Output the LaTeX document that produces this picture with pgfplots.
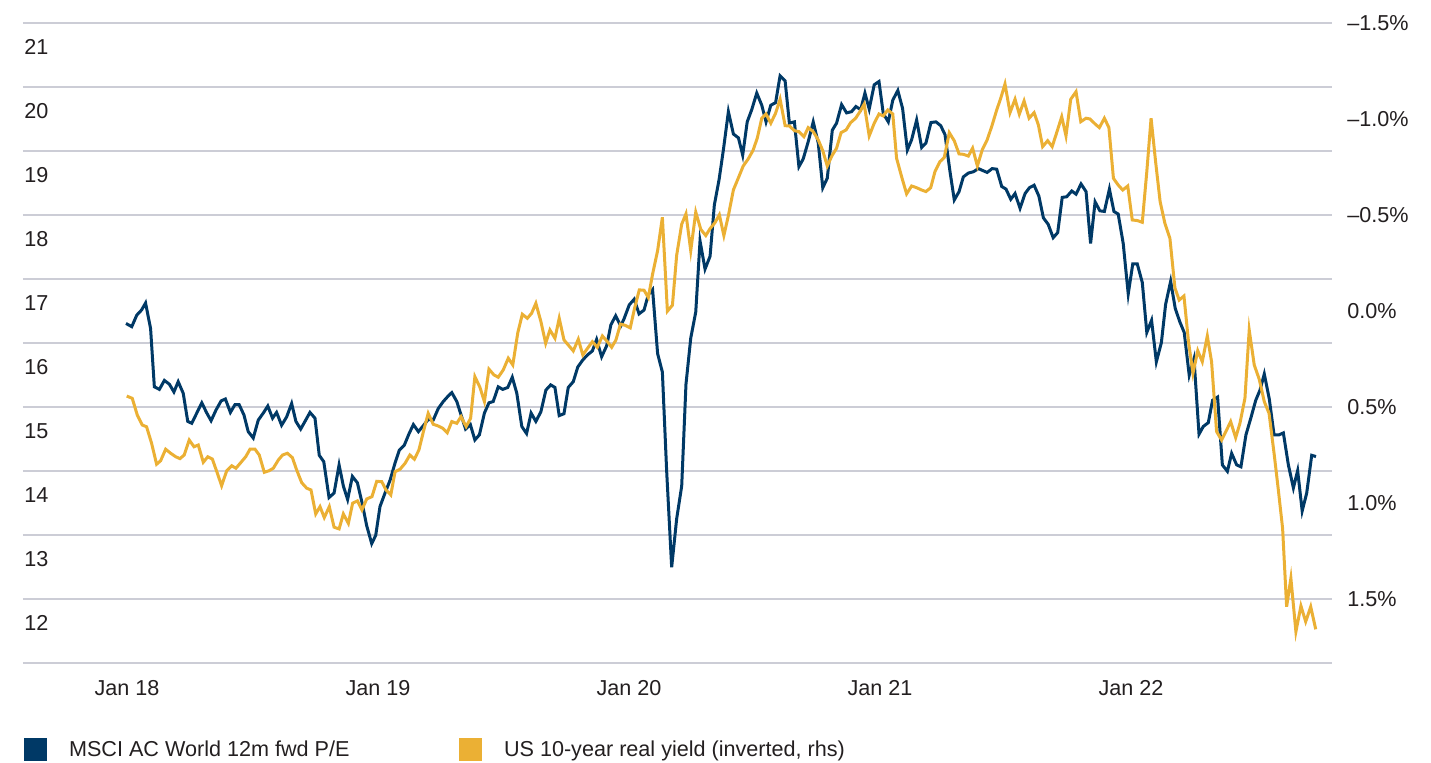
\documentclass[border=0pt]{standalone}
\usepackage{pgfplots}
\pgfplotsset{compat=1.18}
\usepackage{pgfplotstable}
\usepackage{fontspec}
\setmainfont{Liberation Sans}
\definecolor{navyc}{RGB}{0,57,102}
\definecolor{goldc}{RGB}{235,176,52}
\definecolor{gridc}{RGB}{204,205,214}
\definecolor{txtc}{RGB}{35,31,32}

% MSCI AC World 12m fwd P/E (weekly)
\pgfplotstableread{
t v
2017.996 16.68
2018.019 16.63
2018.039 16.81
2018.058 16.89
2018.074 17.00
2018.094 16.60
2018.109 15.69
2018.129 15.65
2018.149 15.79
2018.169 15.73
2018.187 15.61
2018.204 15.77
2018.224 15.59
2018.242 15.15
2018.258 15.12
2018.278 15.28
2018.298 15.44
2018.318 15.28
2018.335 15.16
2018.355 15.33
2018.375 15.47
2018.392 15.50
2018.412 15.29
2018.430 15.41
2018.447 15.41
2018.466 15.25
2018.483 14.99
2018.503 14.89
2018.523 15.17
2018.543 15.28
2018.561 15.39
2018.580 15.20
2018.596 15.29
2018.616 15.09
2018.636 15.22
2018.656 15.43
2018.673 15.15
2018.692 15.03
2018.712 15.17
2018.729 15.29
2018.749 15.20
2018.766 14.62
2018.784 14.52
2018.805 13.96
2018.825 14.03
2018.845 14.47
2018.862 14.14
2018.879 13.93
2018.898 14.29
2018.918 14.19
2018.937 13.87
2018.955 13.52
2018.975 13.24
2018.991 13.37
2019.008 13.82
2019.028 14.03
2019.048 14.23
2019.068 14.50
2019.085 14.70
2019.105 14.78
2019.124 14.96
2019.141 15.10
2019.161 14.99
2019.180 15.08
2019.200 15.18
2019.220 15.17
2019.240 15.35
2019.260 15.46
2019.276 15.53
2019.294 15.60
2019.314 15.46
2019.331 15.25
2019.349 15.03
2019.368 15.10
2019.386 14.86
2019.404 14.94
2019.424 15.28
2019.442 15.44
2019.459 15.46
2019.479 15.69
2019.497 15.65
2019.517 15.68
2019.535 15.84
2019.553 15.59
2019.573 15.07
2019.592 14.96
2019.610 15.28
2019.629 15.15
2019.649 15.30
2019.669 15.64
2019.688 15.72
2019.705 15.68
2019.722 15.24
2019.741 15.27
2019.758 15.68
2019.778 15.77
2019.796 16.00
2019.816 16.11
2019.835 16.19
2019.854 16.25
2019.871 16.43
2019.891 16.16
2019.911 16.33
2019.928 16.66
2019.947 16.80
2019.967 16.64
2019.980 16.75
2020.001 16.97
2020.021 17.06
2020.040 16.83
2020.060 16.89
2020.077 17.13
2020.094 17.21
2020.114 16.21
2020.133 15.92
2020.150 14.38
2020.170 12.87
2020.190 13.63
2020.210 14.14
2020.227 15.73
2020.246 16.45
2020.266 16.86
2020.283 17.97
2020.303 17.53
2020.323 17.73
2020.340 18.53
2020.359 18.93
2020.376 19.39
2020.396 19.99
2020.416 19.64
2020.436 19.58
2020.453 19.31
2020.471 19.83
2020.489 20.02
2020.509 20.28
2020.529 20.09
2020.546 19.83
2020.565 20.09
2020.584 20.13
2020.602 20.55
2020.622 20.47
2020.639 19.81
2020.659 19.83
2020.677 19.13
2020.694 19.25
2020.714 19.52
2020.734 19.83
2020.754 19.50
2020.772 18.80
2020.790 18.95
2020.810 19.70
2020.827 19.81
2020.847 20.10
2020.867 19.97
2020.887 19.99
2020.904 20.07
2020.923 20.02
2020.940 20.28
2020.957 20.03
2020.977 20.41
2020.996 20.46
2021.013 19.96
2021.033 19.83
2021.051 20.17
2021.071 20.32
2021.090 20.04
2021.109 19.39
2021.126 19.55
2021.146 19.86
2021.166 19.43
2021.183 19.50
2021.203 19.82
2021.223 19.83
2021.242 19.77
2021.259 19.63
2021.279 19.05
2021.296 18.61
2021.315 18.74
2021.332 18.97
2021.352 19.03
2021.372 19.05
2021.392 19.10
2021.409 19.07
2021.427 19.04
2021.447 19.10
2021.465 19.09
2021.485 18.82
2021.502 18.78
2021.521 18.62
2021.538 18.71
2021.558 18.48
2021.578 18.71
2021.595 18.80
2021.614 18.84
2021.633 18.67
2021.651 18.33
2021.670 18.23
2021.690 18.02
2021.708 18.10
2021.726 18.65
2021.744 18.66
2021.764 18.75
2021.781 18.70
2021.801 18.86
2021.821 18.74
2021.839 17.93
2021.857 18.58
2021.876 18.44
2021.894 18.43
2021.914 18.78
2021.932 18.43
2021.949 18.39
2021.969 17.93
2021.989 17.14
2022.007 17.61
2022.025 17.61
2022.045 17.32
2022.063 16.54
2022.082 16.73
2022.101 16.08
2022.121 16.38
2022.138 16.98
2022.158 17.34
2022.176 16.92
2022.194 16.71
2022.212 16.54
2022.232 15.87
2022.251 16.13
2022.271 14.95
2022.288 15.07
2022.308 15.13
2022.325 15.48
2022.345 15.53
2022.364 14.47
2022.384 14.37
2022.401 14.65
2022.421 14.47
2022.438 14.44
2022.458 14.94
2022.478 15.21
2022.497 15.48
2022.514 15.64
2022.531 15.89
2022.551 15.50
2022.570 14.94
2022.590 14.94
2022.607 14.97
2022.627 14.47
2022.647 14.11
2022.664 14.38
2022.682 13.75
2022.700 14.03
2022.720 14.62
2022.737 14.60
}\petable

% US 10-year real yield, % (plotted on an inverted axis)
\pgfplotstableread{
t r
2017.999 0.443
2018.021 0.455
2018.041 0.542
2018.061 0.594
2018.078 0.603
2018.098 0.689
2018.118 0.798
2018.134 0.780
2018.154 0.720
2018.174 0.741
2018.194 0.759
2018.211 0.769
2018.228 0.750
2018.248 0.672
2018.267 0.707
2018.284 0.698
2018.304 0.788
2018.322 0.759
2018.340 0.771
2018.360 0.845
2018.377 0.910
2018.397 0.833
2018.417 0.806
2018.434 0.819
2018.453 0.790
2018.473 0.759
2018.490 0.720
2018.510 0.720
2018.527 0.750
2018.547 0.840
2018.566 0.832
2018.583 0.819
2018.603 0.776
2018.620 0.750
2018.639 0.741
2018.659 0.764
2018.676 0.828
2018.696 0.894
2018.716 0.923
2018.733 0.932
2018.752 1.057
2018.769 1.019
2018.786 1.076
2018.806 1.019
2018.825 1.126
2018.845 1.135
2018.862 1.057
2018.882 1.106
2018.899 1.001
2018.918 0.989
2018.936 1.036
2018.955 0.979
2018.976 0.967
2018.995 0.887
2019.015 0.889
2019.032 0.932
2019.051 0.958
2019.068 0.837
2019.088 0.824
2019.108 0.793
2019.127 0.750
2019.145 0.772
2019.163 0.724
2019.181 0.628
2019.200 0.533
2019.220 0.590
2019.240 0.599
2019.258 0.611
2019.276 0.634
2019.294 0.576
2019.314 0.585
2019.331 0.550
2019.351 0.602
2019.369 0.559
2019.386 0.342
2019.406 0.397
2019.424 0.472
2019.442 0.303
2019.462 0.333
2019.479 0.345
2019.499 0.307
2019.519 0.246
2019.537 0.281
2019.557 0.113
2019.575 0.017
2019.595 0.038
2019.612 0.012
2019.629 -0.040
2019.649 0.055
2019.668 0.168
2019.685 0.099
2019.705 0.142
2019.722 0.038
2019.741 0.151
2019.758 0.177
2019.778 0.208
2019.798 0.147
2019.816 0.229
2019.835 0.194
2019.854 0.160
2019.874 0.189
2019.894 0.130
2019.914 0.160
2019.931 0.189
2019.948 0.151
2019.966 0.068
2019.985 0.075
2020.005 0.088
2020.022 -0.013
2020.041 -0.110
2020.060 -0.108
2020.077 -0.070
2020.094 -0.192
2020.114 -0.314
2020.133 -0.488
2020.153 0.001
2020.173 -0.030
2020.190 -0.291
2020.210 -0.452
2020.227 -0.506
2020.246 -0.314
2020.266 -0.515
2020.286 -0.425
2020.306 -0.393
2020.323 -0.429
2020.343 -0.461
2020.360 -0.501
2020.378 -0.393
2020.396 -0.497
2020.416 -0.631
2020.436 -0.694
2020.455 -0.755
2020.475 -0.792
2020.494 -0.836
2020.511 -0.900
2020.529 -1.004
2020.546 -1.026
2020.565 -0.978
2020.584 -1.030
2020.602 -1.103
2020.622 -0.965
2020.639 -0.964
2020.659 -0.939
2020.677 -0.934
2020.697 -0.908
2020.714 -0.955
2020.734 -0.934
2020.754 -0.891
2020.772 -0.835
2020.790 -0.755
2020.808 -0.807
2020.827 -0.848
2020.845 -0.929
2020.865 -0.943
2020.883 -0.981
2020.903 -1.004
2020.920 -1.038
2020.937 -1.077
2020.957 -0.912
2020.977 -0.978
2020.996 -1.026
2021.013 -1.016
2021.031 -1.047
2021.051 -1.026
2021.066 -0.796
2021.086 -0.700
2021.106 -0.610
2021.126 -0.651
2021.146 -0.642
2021.166 -0.630
2021.183 -0.622
2021.202 -0.642
2021.219 -0.726
2021.239 -0.778
2021.256 -0.799
2021.276 -0.929
2021.296 -0.886
2021.315 -0.818
2021.332 -0.816
2021.352 -0.807
2021.369 -0.848
2021.388 -0.755
2021.408 -0.842
2021.427 -0.891
2021.447 -0.969
2021.465 -1.047
2021.481 -1.108
2021.498 -1.182
2021.518 -1.033
2021.538 -1.103
2021.555 -1.025
2021.574 -1.094
2021.594 -1.004
2021.614 -1.033
2021.631 -0.969
2021.648 -0.856
2021.668 -0.887
2021.686 -0.856
2021.704 -0.929
2021.724 -1.012
2021.741 -0.912
2021.760 -1.103
2021.781 -1.142
2021.800 -0.986
2021.821 -1.004
2021.837 -1.000
2021.857 -0.974
2021.874 -0.955
2021.894 -1.004
2021.912 -0.955
2021.930 -0.691
2021.949 -0.656
2021.967 -0.630
2021.987 -0.651
2022.005 -0.474
2022.025 -0.471
2022.045 -0.462
2022.063 -0.726
2022.080 -1.004
2022.098 -0.778
2022.116 -0.570
2022.135 -0.457
2022.155 -0.379
2022.175 -0.120
2022.192 -0.057
2022.211 -0.078
2022.229 0.159
2022.247 0.324
2022.266 0.207
2022.284 0.264
2022.304 0.130
2022.321 0.264
2022.341 0.628
2022.361 0.672
2022.378 0.628
2022.397 0.576
2022.417 0.660
2022.434 0.585
2022.454 0.454
2022.471 0.099
2022.491 0.281
2022.511 0.356
2022.531 0.472
2022.550 0.533
2022.570 0.741
2022.587 0.932
2022.604 1.132
2022.620 1.540
2022.637 1.392
2022.657 1.670
2022.677 1.536
2022.696 1.618
2022.716 1.540
2022.736 1.658
}\ryield

\pgfplotsset{
  base/.style={
    scale only axis, width=654.5pt, height=320pt,
    at={(11.5pt,50pt)}, anchor=south west,
    xmin=2017.5857, xmax=2022.8008,
    axis line style={draw=none}, major tick length=0pt,
    tick label style={font=\fontsize{10.8}{13}\selectfont, text=txtc},
    /pgf/number format/assume math mode=true,
  },
}

\begin{document}
\begin{tikzpicture}
\useasboundingbox (0,0) rectangle (715.5pt,381.5pt);
\begin{axis}[base,
  ymin=11.375, ymax=21.375,
  xtick={2018,2019,2020,2021,2022},
  xticklabels={Jan 18,Jan 19,Jan 20,Jan 21,Jan 22},
  xticklabel style={anchor=base, yshift=-16.5pt},
  ytick={12,13,14,15,16,17,18,19,20,21},
  yticklabels={12,13,14,15,16,17,18,19,20,21},
  yticklabel style={anchor=west, inner xsep=0pt, xshift=0.5pt},
  extra y ticks={11.375,12.375,13.375,14.375,15.375,16.375,17.375,18.375,19.375,20.375,21.375},
  extra y tick labels={},
  extra y tick style={grid=major},
  major grid style={gridc, line width=0.6pt},
]
\addplot[navyc, line width=1.5pt] table[x=t,y=v]{\petable};
\end{axis}
\begin{axis}[base,
  ymin=-1.5, ymax=1.83333, y dir=reverse,
  xtick=\empty,
  ytick={-1.5,-1,-0.5,0,0.5,1,1.5},
  yticklabels={\textendash1.5\%,\textendash1.0\%,\textendash0.5\%,0.0\%,0.5\%,1.0\%,1.5\%},
  yticklabel pos=right,
  yticklabel style={anchor=west, inner xsep=0pt, xshift=7.5pt},
  legend columns=2,
  legend cell align=left,
  legend image code/.code={\fill[#1] (0pt,-5pt) rectangle (10pt,5pt);},
  legend style={at={(0.0008,-0.1359)}, anchor=west, draw=none, fill=none,
    inner sep=0pt, outer sep=0pt, font=\fontsize{10.8}{13}\selectfont, text=txtc,
    nodes={inner xsep=0pt},
    /tikz/every odd column/.style={column sep=11pt}},
]
\addlegendimage{navyc, line width=1.5pt}
\addlegendentry{\makebox[195pt][l]{MSCI AC World 12m fwd P/E}}
\addplot[goldc, line width=1.5pt] table[x=t,y=r]{\ryield};
\addlegendentry{US 10-year real yield (inverted, rhs)}
\end{axis}
\end{tikzpicture}
\end{document}
